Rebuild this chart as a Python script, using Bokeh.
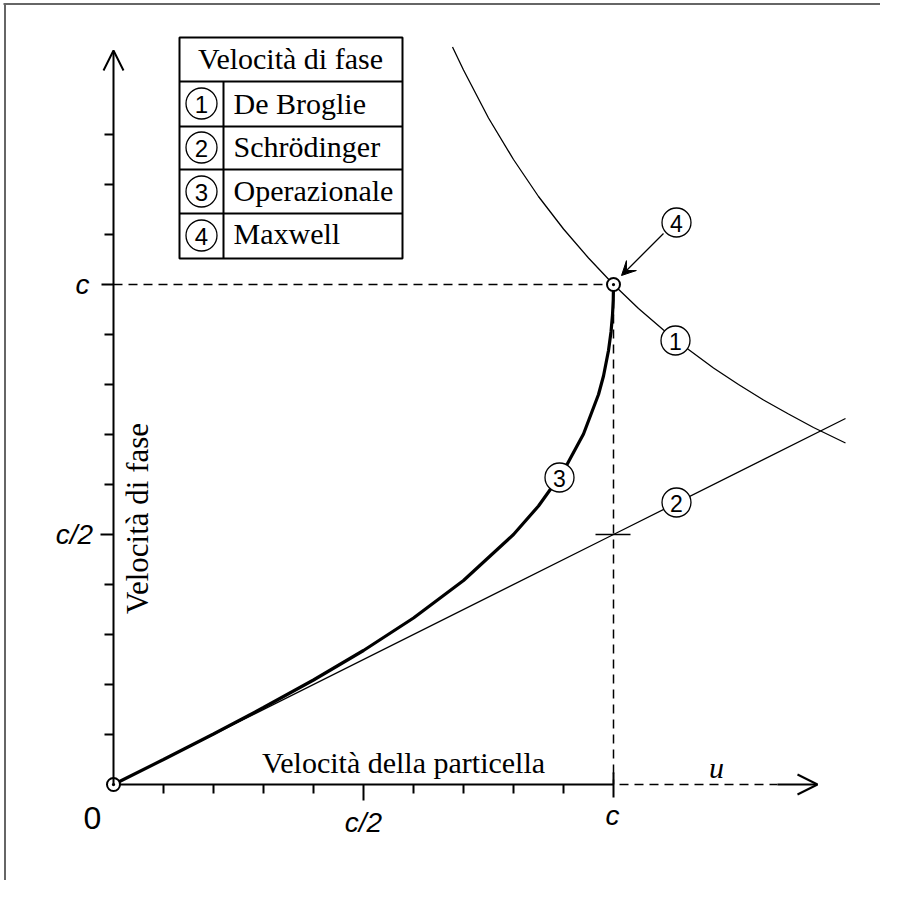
from math import pi
from bokeh.plotting import figure
from bokeh.models import Range1d, Label, Arrow, OpenHead, VeeHead
from bokeh.embed import file_html
from bokeh.resources import INLINE

# ---------------- data (velocities in units of c) ----------------
# (3) Operazionale phase velocity vs particle velocity
u_operazionale = [0.0, 0.1, 0.2, 0.3, 0.4, 0.5, 0.6, 0.7, 0.8, 0.85, 0.9, 0.94,
                  0.97, 0.98, 0.99, 0.995, 0.998, 0.9995, 1.0]
v_operazionale = [0.0, 0.050, 0.101, 0.154, 0.209, 0.268, 0.333, 0.408, 0.500, 0.557,
                  0.627, 0.701, 0.780, 0.817, 0.868, 0.905, 0.939, 0.969, 1.0]
# (1) De Broglie
u_debroglie = [0.678, 0.70, 0.75, 0.80, 0.85, 0.90, 0.95, 1.00, 1.05, 1.10, 1.15,
               1.20, 1.25, 1.30, 1.35, 1.40, 1.464]
v_debroglie = [1.475, 1.429, 1.333, 1.250, 1.176, 1.111, 1.053, 1.000, 0.952, 0.909,
               0.870, 0.833, 0.800, 0.769, 0.741, 0.714, 0.683]
# (2) Schrödinger
u_schrodinger = [0.0, 1.0, 1.464]
v_schrodinger = [0.0, 0.5, 0.732]
# (4) Maxwell point and origin
u_points = [0.0, 1.0]
v_points = [0.0, 1.0]

# ticks
x_minor_ticks = [0.1, 0.2, 0.3, 0.4, 0.6, 0.7, 0.8, 0.9]
y_minor_ticks = [0.1, 0.2, 0.3, 0.4, 0.6, 0.7, 0.8, 0.9, 1.1, 1.2, 1.3]
major_ticks = [0.5, 1.0]
major_labels = ["c/2", "c"]
origin_label = "0"

# legend table
table_title = "Velocità di fase"
series_numbers = ["1", "2", "3", "4"]
series_names = ["De Broglie", "Schrödinger", "Operazionale", "Maxwell"]

x_title = "Velocità della particella"
y_title = "Velocità di fase"
x_symbol = "u"

# ---------------- geometry helpers ----------------
S = 500.0          # pixels per unit c
OX, OY = 113, 784  # picture pixel of origin
W, H = 880, 880
BL = 10            # baseline correction for alphabetic text (px)


def px(X):
    return (X - OX) / S


def py(Y):
    return (OY - Y) / S


def d(n):
    return n / S


p = figure(width=W, height=H, x_range=Range1d(px(0), px(W)),
           y_range=Range1d(py(H), py(0)), output_backend="svg",
           toolbar_location=None, min_border=0,
           x_axis_location=None, y_axis_location=None)
p.grid.visible = False
p.outline_line_color = None
p.background_fill_color = "white"
p.border_fill_color = "white"

SERIF = "Liberation Serif"
SANS = "Liberation Sans"

# white cover over the far right / bottom edges
p.segment(x0=[px(W - 1.5), px(6)], y0=[py(6), py(H - 1.5)], x1=[px(W - 1.5), px(W)],
          y1=[py(H), py(H - 1.5)], line_color="white", line_width=4)

# frame lines (left and top)
p.segment(x0=[px(4.5), px(3)], y0=[py(3), py(3.5)], x1=[px(4.5), px(W)], y1=[py(H), py(3.5)],
          line_color="#666666", line_width=2)

# dashed guides
p.segment(x0=[0, 1.0], y0=[1.0, 1.0], x1=[1.0, 1.0], y1=[1.0, 0],
          line_color="black", line_width=1.5, line_dash="9 6")
p.segment(x0=[1.0 + d(6)], y0=[0], x1=[px(777)], y1=[0],
          line_color="black", line_width=1.5, line_dash="9 6")

# axes
p.segment(x0=[0], y0=[0], x1=[1.0], y1=[0], line_color="black", line_width=2)
p.add_layout(Arrow(x_start=px(777), y_start=0, x_end=px(817), y_end=0,
                   line_width=2, line_color="black",
                   end=OpenHead(size=20, line_width=2, line_color="black")))
p.add_layout(Arrow(x_start=0, y_start=0, x_end=0, y_end=py(50),
                   line_width=2, line_color="black",
                   end=OpenHead(size=20, line_width=2, line_color="black")))

# ticks
p.segment(x0=x_minor_ticks, y0=[0] * len(x_minor_ticks), x1=x_minor_ticks,
          y1=[-d(9)] * len(x_minor_ticks), line_color="black", line_width=2)
p.segment(x0=[-d(9)] * len(y_minor_ticks), y0=y_minor_ticks,
          x1=[0] * len(y_minor_ticks), y1=y_minor_ticks, line_color="black", line_width=2)
p.segment(x0=major_ticks, y0=[0, d(12)], x1=major_ticks, y1=[-d(16), -d(13)],
          line_color="black", line_width=2)
p.segment(x0=[-d(13), -d(12)], y0=major_ticks, x1=[0, 0], y1=major_ticks,
          line_color="black", line_width=2)
# small mark on the dashed vertical at c/2
p.segment(x0=[px(595)], y0=[0.5], x1=[px(630)], y1=[0.5], line_color="black", line_width=1.5)

# curves
p.line(u_debroglie, v_debroglie, line_color="black", line_width=1.3)
p.line(u_schrodinger, v_schrodinger, line_color="black", line_width=1.3)
p.line(u_operazionale, v_operazionale, line_color="black", line_width=3.2)

# Maxwell arrow
p.add_layout(Arrow(x_start=px(663), y_start=py(233), x_end=px(621), y_end=py(275),
                   line_width=1.3, line_color="black",
                   end=VeeHead(size=14, fill_color="black", line_color="black", line_width=1)))

# special points
p.scatter(u_points, v_points, marker="circle_dot", size=13, fill_color="white",
          line_color="black", line_width=2)

# circled numbers on the plot
cx = [px(675), px(676), px(559), px(676)]
cy = [py(340), py(502), py(477), py(222)]
p.scatter(cx, cy, marker="circle", size=29, fill_color="white", line_color="black", line_width=1.3)
for x, y, t in zip(cx, cy, series_numbers):
    p.add_layout(Label(x=x, y=y - d(1), text=t, text_font=SANS, text_font_size="23px",
                       text_align="center", text_baseline="middle", text_color="black"))

# legend table
p.quad(left=[px(179)], right=[px(402)], top=[py(37)], bottom=[py(258)],
       fill_color="white", line_color="black", line_width=2)
row_lines = [81, 126, 169, 213]
p.segment(x0=[px(179)] * 4, y0=[py(r) for r in row_lines], x1=[px(402)] * 4,
          y1=[py(r) for r in row_lines], line_color="black", line_width=2)
p.segment(x0=[px(223)], y0=[py(81)], x1=[px(223)], y1=[py(258)], line_color="black", line_width=2)
p.add_layout(Label(x=px(290), y=py(68 - BL), text=table_title, text_font=SERIF, text_font_size="30px",
                   text_align="center", text_baseline="alphabetic", text_color="black"))
row_centers = [103, 147, 191, 235]
row_base = [113, 156, 200, 243]
p.scatter([px(201)] * 4, [py(c) for c in row_centers], marker="circle", size=31,
          fill_color="white", line_color="black", line_width=1.3)
for c, b, n, name in zip(row_centers, row_base, series_numbers, series_names):
    p.add_layout(Label(x=px(201), y=py(c) - d(1), text=n, text_font=SANS, text_font_size="24px",
                       text_align="center", text_baseline="middle", text_color="black"))
    p.add_layout(Label(x=px(233), y=py(b - BL), text=name, text_font=SERIF, text_font_size="30px",
                       text_align="left", text_baseline="alphabetic", text_color="black"))

# axis titles
p.add_layout(Label(x=px(403), y=py(772 - BL), text=x_title, text_font=SERIF, text_font_size="30px",
                   text_align="center", text_baseline="alphabetic", text_color="black"))
p.add_layout(Label(x=px(147 - BL), y=py(518), text=y_title, text_font=SERIF, text_font_size="31px",
                   text_align="center", text_baseline="alphabetic", angle=pi / 2,
                   text_color="black"))
p.add_layout(Label(x=px(716), y=py(777 - BL), text=x_symbol, text_font=SERIF, text_font_size="30px",
                   text_font_style="italic", text_align="center", text_baseline="alphabetic",
                   text_color="black"))

# tick labels
p.add_layout(Label(x=px(92), y=py(817), text=origin_label, text_font=SANS, text_font_size="32px",
                   text_align="center", text_baseline="middle", text_color="black"))
xl_pos = [(363, 822), (612, 815)]
yl_pos = [(74, 534), (82, 284)]
for (X, Y), t in zip(xl_pos, major_labels):
    p.add_layout(Label(x=px(X), y=py(Y), text=t, text_font=SANS, text_font_size="28px",
                       text_font_style="italic", text_align="center", text_baseline="middle",
                       text_color="black"))
for (X, Y), t in zip(yl_pos, major_labels):
    p.add_layout(Label(x=px(X), y=py(Y), text=t, text_font=SANS, text_font_size="28px",
                       text_font_style="italic", text_align="center", text_baseline="middle",
                       text_color="black"))

open("out.html", "w").write(file_html(p, INLINE))
